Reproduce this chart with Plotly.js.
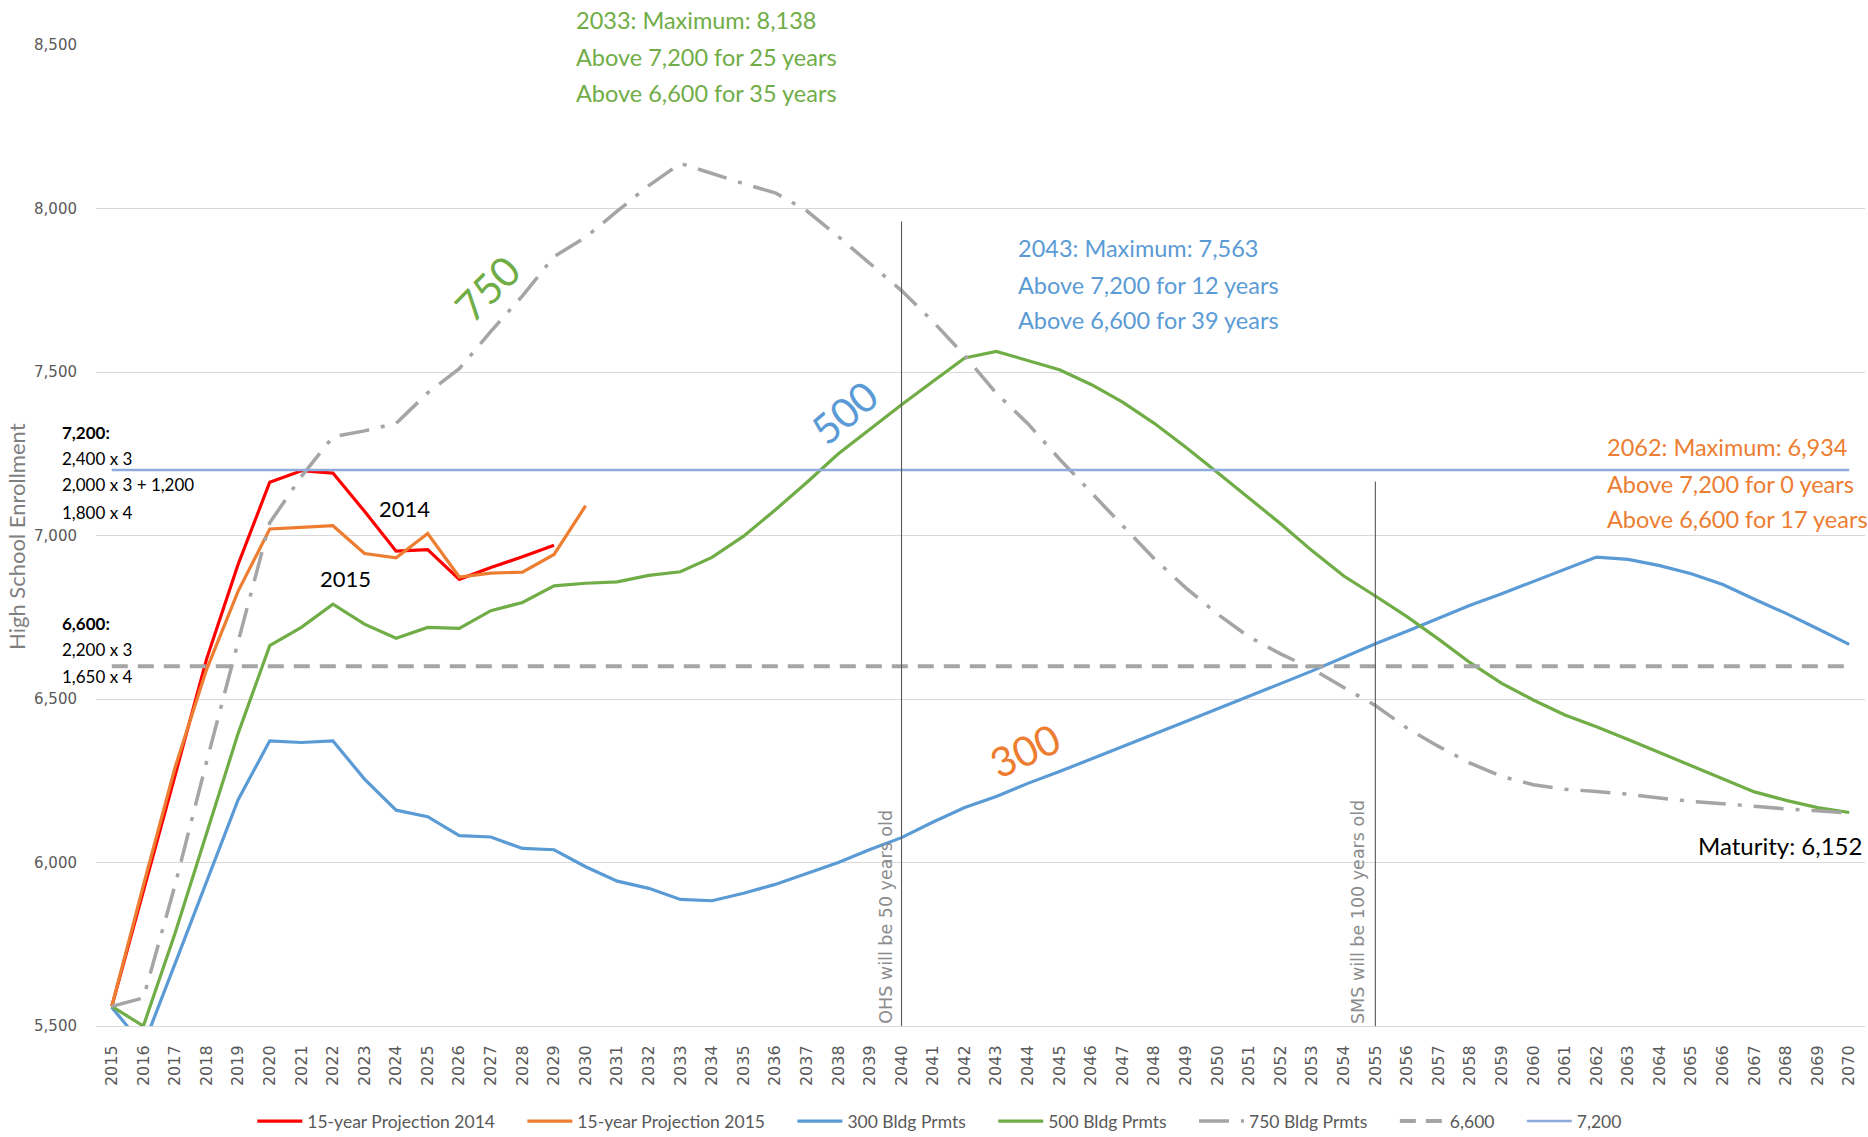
<!DOCTYPE html>
<html>
<head>
<meta charset="utf-8">
<script src="https://cdn.plot.ly/plotly-3.0.1.min.js"></script>
<style>
  html, body { margin: 0; padding: 0; background: #fff; }
  #chart { width: 1868px; height: 1137px; }
</style>
</head>
<body>
<div id="chart"></div>
<script>
// ---- Data ----
const years = [2015,2016,2017,2018,2019,2020,2021,2022,2023,2024,2025,2026,2027,2028,2029,2030,
  2031,2032,2033,2034,2035,2036,2037,2038,2039,2040,2041,2042,2043,2044,2045,2046,2047,2048,2049,2050,
  2051,2052,2053,2054,2055,2056,2057,2058,2059,2060,2061,2062,2063,2064,2065,2066,2067,2068,2069,2070];

const proj2014 = [5560,5910,6265,6622,6912,7163,7198,7191,7074,6952,6957,6866,6902,6935,6970];
const proj2015 = [5560,5930,6290,6590,6830,7020,7025,7030,6945,6932,7006,6873,6885,6888,6942,7091];

const bldg300 = [5557,5440,5690,5940,6192,6372,6367,6372,6255,6160,6140,6082,6078,6043,6039,5987,
  5943,5921,5887,5883,5906,5933,5967,6000,6040,6076,6124,6168,6202,6242,6278,6317,6354,6393,6431,6469,
  6508,6547,6586,6627,6669,6707,6748,6787,6822,6860,6898,6934,6927,6908,6883,6850,6805,6762,6715,6667];

const bldg500 = [5560,5500,5783,6085,6395,6663,6719,6790,6729,6686,6719,6716,6770,6795,6846,6854,
  6858,6878,6889,6933,6998,7078,7162,7250,7326,7400,7472,7543,7563,7535,7507,7462,7408,7343,7270,7193,
  7115,7036,6953,6876,6815,6752,6683,6611,6548,6497,6451,6415,6376,6336,6296,6255,6216,6190,6168,6153];

const bldg750 = [5560,5586,5930,6308,6675,7039,7180,7302,7320,7343,7436,7510,7624,7733,7853,7912,
  7992,8070,8138,8107,8076,8048,7993,7914,7830,7749,7654,7550,7435,7342,7234,7131,7030,6929,6840,6760,
  6690,6638,6592,6535,6480,6411,6355,6304,6263,6238,6224,6217,6209,6197,6187,6180,6171,6164,6158,6151];

const thresholdYears = [2015, 2070];
const threshold6600 = [6600, 6600];
const threshold7200 = [7200, 7200];

const seriesNames = ['15-year Projection 2014','15-year Projection 2015','300 Bldg Prmts',
  '500 Bldg Prmts','750 Bldg Prmts','6,600','7,200'];

const yTicks = [5500, 6000, 6500, 7000, 7500, 8000, 8500];

// ---- Styling ----
const C = {
  red: '#FF0000', orange: '#ED7D31', blue: '#5B9BD5', green: '#70AD47',
  gray: '#A5A5A5', light: '#8FAADC', text: '#595959'
};
const F = 'Lato, "Open Sans", sans-serif';
const pad = '\u00a0'.repeat(5);

const traces = [
  {x: years.slice(0, proj2014.length), y: proj2014, name: seriesNames[0] + pad, mode: 'lines',
   line: {color: C.red, width: 3.2}},
  {x: years.slice(0, proj2015.length), y: proj2015, name: seriesNames[1] + pad, mode: 'lines',
   line: {color: C.orange, width: 3.2}},
  {x: years, y: bldg300, name: seriesNames[2] + pad, mode: 'lines',
   line: {color: C.blue, width: 3.2}},
  {x: years, y: bldg500, name: seriesNames[3] + pad, mode: 'lines',
   line: {color: C.green, width: 3.2}},
  {x: years, y: bldg750, name: seriesNames[4] + pad, mode: 'lines',
   line: {color: C.gray, width: 3.5, dash: '30px,12px,4px,12px'}},
  {x: thresholdYears, y: threshold6600, name: seriesNames[5] + pad, mode: 'lines',
   line: {color: C.gray, width: 4, dash: '16px,10px'}},
  {x: thresholdYears, y: threshold7200, name: seriesNames[6], mode: 'lines',
   line: {color: C.light, width: 2.5}}
];

function txt(text, x, y, color, size, opts) {
  return Object.assign({text: text, x: x, y: y, xref: 'paper', yref: 'paper', showarrow: false,
    xanchor: 'left', yanchor: 'middle', font: {family: F, size: size, color: color}}, opts || {});
}

const annotations = [
  txt('2033: Maximum: 8,138', 0.2702, 1.0255, C.green, 23.5),
  txt('Above 7,200 for 25 years', 0.2702, 0.9878, C.green, 23.5),
  txt('Above 6,600 for 35 years', 0.2702, 0.951, C.green, 23.5),
  txt('2043: Maximum: 7,563', 0.520, 0.793, C.blue, 23.5),
  txt('Above 7,200 for 12 years', 0.520, 0.7554, C.blue, 23.5),
  txt('Above 6,600 for 39 years', 0.520, 0.7197, C.blue, 23.5),
  txt('2062: Maximum: 6,934', 0.853, 0.590, C.orange, 23.5),
  txt('Above 7,200 for 0 years', 0.853, 0.5525, C.orange, 23.5),
  txt('Above 6,600 for 17 years', 0.853, 0.5168, C.orange, 23.5),
  txt('Maturity: 6,152', 0.9994, 0.1835, '#000', 24, {xanchor: 'right'}),
  txt('<b>7,200:</b>', -0.0204, 0.6055, '#000', 17),
  txt('2,400 x 3', -0.0204, 0.578, '#000', 17),
  txt('2,000 x 3 + 1,200', -0.0204, 0.5515, '#000', 17),
  txt('1,800 x 4', -0.0204, 0.523, '#000', 17),
  txt('<b>6,600:</b>', -0.0204, 0.4098, '#000', 17),
  txt('2,200 x 3', -0.0204, 0.3833, '#000', 17),
  txt('1,650 x 4', -0.0204, 0.3558, '#000', 17),
  txt('High School Enrollment', -0.0447, 0.4995, '#7F7F7F', 22, {xanchor: 'center', textangle: -90}),
  {text: '2014', x: 2024.25, y: 7082, xref: 'x', yref: 'y', showarrow: false,
   font: {family: F, size: 22, color: '#000'}},
  {text: '2015', x: 2022.41, y: 6867, xref: 'x', yref: 'y', showarrow: false,
   font: {family: F, size: 22, color: '#000'}},
  {text: '750', x: 2026.88, y: 7754, xref: 'x', yref: 'y', showarrow: false, textangle: -45,
   font: {family: F, size: 41, color: C.green}},
  {text: '500', x: 2038.18, y: 7375, xref: 'x', yref: 'y', showarrow: false, textangle: -40,
   font: {family: F, size: 41, color: C.blue}},
  {text: '300', x: 2043.9, y: 6344, xref: 'x', yref: 'y', showarrow: false, textangle: -25,
   font: {family: F, size: 41, color: C.orange}},
  {text: 'OHS will be 50 years old', x: 2039.5, y: 5500, xref: 'x', yref: 'y', showarrow: false,
   textangle: -90, yanchor: 'bottom', xanchor: 'center',
   font: {family: 'DejaVu Sans, sans-serif', size: 17.5, color: '#8C8C8C'}},
  {text: 'SMS will be 100 years old', x: 2054.45, y: 5500, xref: 'x', yref: 'y', showarrow: false,
   textangle: -90, yanchor: 'bottom', xanchor: 'center',
   font: {family: 'DejaVu Sans, sans-serif', size: 17.5, color: '#8C8C8C'}}
];

const shapes = [
  {type: 'line', xref: 'x', yref: 'y', x0: 2040, x1: 2040, y0: 5500, y1: 7960,
   line: {color: '#595959', width: 1.1}},
  {type: 'line', xref: 'x', yref: 'y', x0: 2055, x1: 2055, y0: 5500, y1: 7165,
   line: {color: '#595959', width: 1.1}}
];

const layout = {
  width: 1868, height: 1137,
  margin: {l: 96, r: 3, t: 45, b: 111, autoexpand: false},
  paper_bgcolor: '#fff', plot_bgcolor: '#fff',
  showlegend: true,
  legend: {orientation: 'h', x: 0.477, xanchor: 'center', y: -0.097, yanchor: 'middle',
    font: {family: F, size: 17.5, color: C.text}, itemwidth: 45, bgcolor: 'rgba(0,0,0,0)'},
  xaxis: {range: [2014.5, 2070.5], tickmode: 'array', tickvals: years, ticktext: years.map(String),
    tickangle: -90, showgrid: false, zeroline: false, showline: true, linecolor: '#D9D9D9',
    linewidth: 1, ticks: '', ticklabelstandoff: 12,
    tickfont: {family: 'DejaVu Sans, sans-serif', size: 16, color: C.text}},
  yaxis: {range: [5500, 8500], tickmode: 'array', tickvals: yTicks, tickformat: ',d',
    showgrid: true, gridcolor: '#D9D9D9', gridwidth: 1, zeroline: false, showline: false,
    ticks: '', ticklabelstandoff: 18,
    tickfont: {family: 'DejaVu Sans, sans-serif', size: 15, color: C.text}},
  annotations: annotations,
  shapes: shapes
};

Plotly.newPlot('chart', traces, layout, {displayModeBar: false, staticPlot: true});
</script>
</body>
</html>
